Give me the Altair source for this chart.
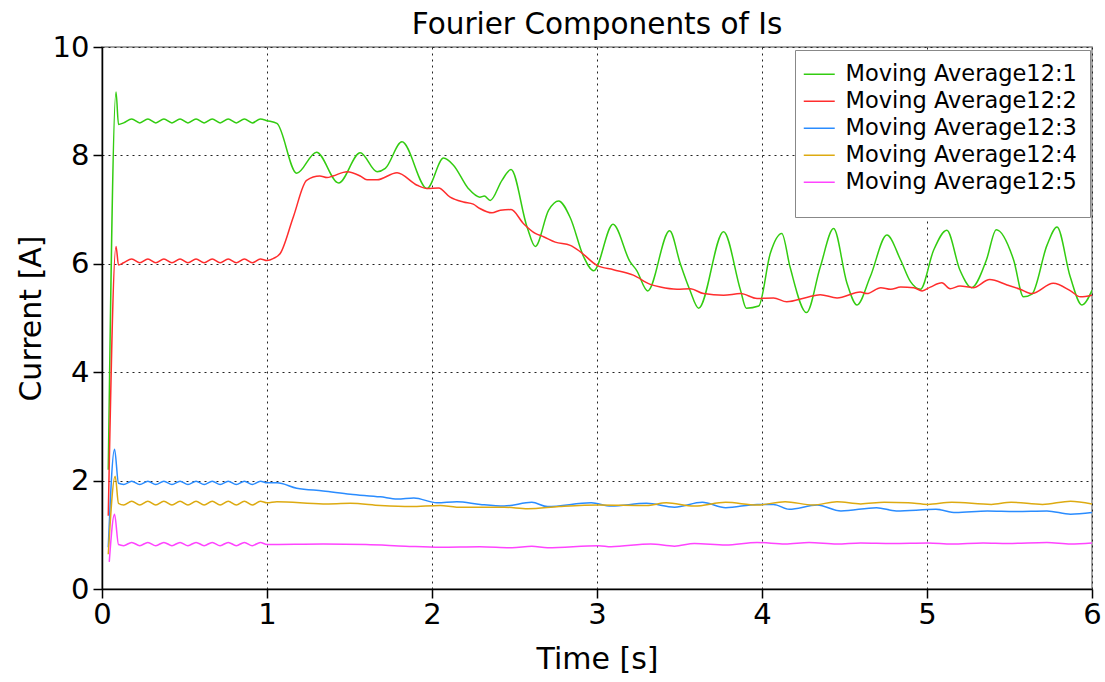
import altair as alt
import pandas as pd

# Series names and line colours
names = [
    "Moving Average12:1",
    "Moving Average12:2",
    "Moving Average12:3",
    "Moving Average12:4",
    "Moving Average12:5",
]
colors = ["#33cc11", "#ff2d2d", "#2a8cff", "#ddaa11", "#ff44ff"]

# Shared time stamps of the small steady-state ripple (0.1 s .. 1.0 s)
t_ripple = [0.131, 0.18, 0.229, 0.278, 0.326, 0.375, 0.424, 0.473, 0.521,
            0.57, 0.619, 0.668, 0.716, 0.765, 0.814, 0.863, 0.911, 0.96]

# Component 1
t1 = [0.038, 0.085, 0.1] + t_ripple + [
    1.0, 1.06, 1.18, 1.30, 1.434, 1.565, 1.667, 1.717, 1.818, 1.97, 2.07, 2.13,
    2.22, 2.29, 2.317, 2.353, 2.424, 2.479, 2.576, 2.626, 2.707, 2.767, 2.838,
    2.919, 2.98, 3.097, 3.2, 3.24, 3.307, 3.44, 3.505, 3.561, 3.616, 3.767,
    3.87, 3.905, 3.98, 4.05, 4.12, 4.17, 4.27, 4.353, 4.434, 4.515, 4.576,
    4.656, 4.757, 4.84, 4.9, 4.96, 5.04, 5.12, 5.2, 5.27, 5.36, 5.42, 5.525,
    5.585, 5.636, 5.727, 5.788, 5.868, 5.939, 6.0]
v1 = [2.2, 9.17, 8.57,
      8.60, 8.67, 8.60, 8.67, 8.60, 8.67, 8.60, 8.67, 8.60,
      8.67, 8.60, 8.67, 8.60, 8.67, 8.60, 8.67, 8.60, 8.67,
      8.64, 8.59, 7.67, 8.06, 7.49, 8.05, 7.70, 7.76, 8.25, 7.39, 7.95, 7.82,
      7.39, 7.23, 7.25, 7.17, 7.54, 7.74, 6.68, 6.32, 6.99, 7.16, 6.85,
      6.13, 5.87, 6.73, 6.04, 5.88, 5.50, 6.61, 6.00, 5.53, 5.18, 6.59,
      5.51, 5.18, 5.22, 6.19, 6.56, 5.94, 5.10, 5.94, 6.65, 5.64, 5.24,
      5.76, 6.53, 6.07, 5.67, 5.53, 6.25, 6.62, 5.88, 5.56, 6.07, 6.63, 6.07,
      5.39, 5.44, 6.34, 6.68, 5.76, 5.24, 5.51]

# Component 2
t2 = [0.038, 0.085, 0.1] + t_ripple + [
    1.0, 1.04, 1.08, 1.16, 1.24, 1.32, 1.364, 1.40, 1.485, 1.565, 1.606, 1.667,
    1.788, 1.91, 1.97, 2.04, 2.11, 2.19, 2.25, 2.29, 2.364, 2.414, 2.479,
    2.555, 2.626, 2.676, 2.747, 2.838, 2.9, 3.0, 3.1, 3.22, 3.323, 3.384,
    3.485, 3.565, 3.646, 3.767, 3.87, 3.97, 4.07, 4.15, 4.27, 4.353, 4.455,
    4.596, 4.636, 4.72, 4.78, 4.84, 4.92, 4.97, 5.02, 5.09, 5.14, 5.2, 5.28,
    5.38, 5.485, 5.565, 5.636, 5.765, 5.87, 5.93, 6.0]
v2 = [1.35, 6.32, 5.98,
      6.02, 6.09, 6.02, 6.09, 6.02, 6.09, 6.02, 6.09, 6.02,
      6.09, 6.02, 6.09, 6.02, 6.09, 6.02, 6.09, 6.02, 6.09,
      6.06, 6.10, 6.19, 6.87, 7.54, 7.62, 7.59, 7.62, 7.70, 7.62, 7.55, 7.55,
      7.68, 7.45, 7.39, 7.40, 7.23, 7.14, 7.10, 7.02, 6.94, 6.99, 7.00,
      6.74, 6.56, 6.50, 6.40, 6.34, 6.22, 5.97, 5.89, 5.79, 5.62, 5.57,
      5.53, 5.54, 5.45, 5.42, 5.45, 5.36, 5.37, 5.30, 5.38, 5.43, 5.37,
      5.48, 5.45, 5.56, 5.53, 5.57, 5.56, 5.50, 5.57, 5.65, 5.54, 5.59, 5.56,
      5.71, 5.61, 5.53, 5.45, 5.64, 5.50, 5.39, 5.42]

# Component 3
t3 = [0.038, 0.076, 0.1] + t_ripple + [
    1.0, 1.06, 1.18, 1.34, 1.505, 1.687, 1.79, 1.89, 2.03, 2.15, 2.293, 2.437,
    2.605, 2.70, 2.965, 3.085, 3.30, 3.47, 3.638, 3.78, 3.97, 4.07, 4.165,
    4.334, 4.478, 4.694, 4.814, 5.054, 5.174, 5.366, 5.534, 5.727, 5.87, 6.0]
v3 = [0.77, 2.58, 1.95,
      1.93, 1.99, 1.93, 1.99, 1.93, 1.99, 1.93, 1.99, 1.93,
      1.99, 1.93, 1.99, 1.93, 1.99, 1.93, 1.99, 1.93, 1.99,
      1.96, 1.96, 1.86, 1.81, 1.75, 1.70, 1.66, 1.68, 1.59, 1.61, 1.56, 1.53,
      1.60, 1.52, 1.59, 1.53, 1.58, 1.51, 1.60, 1.50, 1.56, 1.56, 1.47,
      1.55, 1.44, 1.50, 1.44, 1.47, 1.41, 1.44, 1.43, 1.44, 1.38, 1.41]

# Component 4
t4 = [0.038, 0.08, 0.1] + t_ripple + [
    1.0, 1.06, 1.34, 1.505, 1.687, 1.87, 2.05, 2.15, 2.293, 2.437, 2.58, 2.77,
    3.01, 3.30, 3.42, 3.59, 3.78, 3.97, 4.14, 4.31, 4.454, 4.598, 4.74, 4.886,
    5.006, 5.15, 5.39, 5.51, 5.70, 5.87, 6.0]
v4 = [0.64, 2.08, 1.58,
      1.55, 1.62, 1.55, 1.62, 1.55, 1.62, 1.55, 1.62, 1.55,
      1.62, 1.55, 1.62, 1.55, 1.62, 1.55, 1.62, 1.55, 1.62,
      1.59, 1.61, 1.57, 1.58, 1.54, 1.52, 1.54, 1.51, 1.51, 1.51, 1.48, 1.52,
      1.55, 1.54, 1.59, 1.53, 1.60, 1.55, 1.61, 1.55, 1.61, 1.57, 1.60, 1.59,
      1.56, 1.60, 1.56, 1.60, 1.56, 1.62, 1.57]

# Component 5
t5 = [0.044, 0.076, 0.1] + t_ripple + [
    1.0, 1.34, 1.60, 1.84, 2.05, 2.29, 2.485, 2.605, 2.70, 3.01, 3.085, 3.325,
    3.47, 3.59, 3.78, 3.97, 4.14, 4.285, 4.454, 4.598, 4.79, 5.006, 5.15, 5.34,
    5.49, 5.727, 5.87, 6.0]
v5 = [0.50, 1.38, 0.82,
      0.80, 0.86, 0.80, 0.86, 0.80, 0.86, 0.80, 0.86, 0.80,
      0.86, 0.80, 0.86, 0.80, 0.86, 0.80, 0.86, 0.80, 0.86,
      0.82, 0.83, 0.82, 0.79, 0.77, 0.78, 0.76, 0.79, 0.76, 0.80, 0.78, 0.83,
      0.79, 0.84, 0.81, 0.86, 0.83, 0.86, 0.83, 0.85, 0.84, 0.85, 0.83, 0.85,
      0.84, 0.86, 0.83, 0.85]

frames = []
for name, ts, vs in zip(names, [t1, t2, t3, t4, t5], [v1, v2, v3, v4, v5]):
    frames.append(pd.DataFrame({"time": ts, "current": vs, "series": name}))
df = pd.concat(frames, ignore_index=True)

FONT = "DejaVu Sans"

lines = alt.Chart(df).mark_line(
    strokeWidth=1.5, interpolate="monotone", clip=True
).encode(
    x=alt.X(
        "time:Q",
        scale=alt.Scale(domain=[0, 6], nice=False),
        axis=alt.Axis(values=[0, 1, 2, 3, 4, 5, 6], title="Time [s]", format="d"),
    ),
    y=alt.Y(
        "current:Q",
        scale=alt.Scale(domain=[0, 10], nice=False),
        axis=alt.Axis(values=[0, 2, 4, 6, 8, 10], title="Current [A]", format="d"),
    ),
    color=alt.Color(
        "series:N",
        scale=alt.Scale(domain=names, range=colors),
        legend=alt.Legend(
            # a blank title below the entries leaves room at the bottom of the box
            title=" ",
            titleOrient="bottom",
            titleFontSize=10,
            titlePadding=0,
            orient="none",
            legendX=693,
            legendY=3,
            # wide flat stroke symbol that keeps the rows compact
            symbolType="M-2,0H2",
            symbolSize=240,
            symbolStrokeWidth=1.5,
            symbolFillColor="transparent",
            labelFontSize=22.5,
            labelFont=FONT,
            labelColor="black",
            labelLimit=400,
            labelOffset=15,
            rowPadding=4,
            padding=13,
            strokeColor="#888888",
            fillColor="white",
        ),
    ),
    detail="series:N",
)

chart = lines.properties(
    width=990,
    height=542,
    autosize=alt.AutoSizeParams(type="none"),
    padding={"left": 102, "top": 47, "right": 13, "bottom": 93},
    title=alt.TitleParams(
        "Fourier Components of Is",
        font=FONT,
        fontSize=29.5,
        fontWeight="normal",
        color="black",
        anchor="middle",
        baseline="alphabetic",
        offset=-30,
    ),
).configure_view(
    stroke="#888888",
    strokeWidth=1.5,
).configure_axis(
    labelFont=FONT,
    labelFontSize=29,
    labelColor="black",
    labelFlush=False,
    titleFont=FONT,
    titleFontSize=30,
    titleFontWeight="normal",
    titleColor="black",
    domainColor="black",
    domainWidth=1.5,
    tickColor="black",
    tickWidth=1.5,
    tickSize=9,
    gridColor="#222222",
    gridDash=[2, 4],
    gridWidth=1,
).configure_axisX(
    labelPadding=2,
    titlePadding=15,
).configure_axisY(
    labelPadding=4,
    titlePadding=6,
)

chart.save("out.html", embed_options={"renderer": "svg", "actions": False})
